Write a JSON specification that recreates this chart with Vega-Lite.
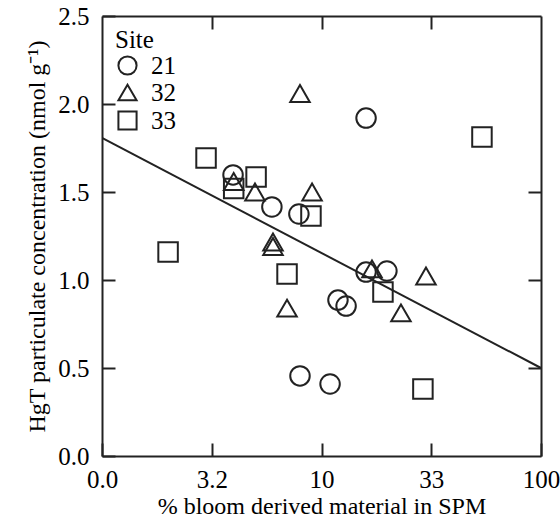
{
  "$schema": "https://vega.github.io/schema/vega-lite/v6.json",
  "autosize": {"type": "none"},
  "padding": {"left": 102, "top": 16, "right": 19, "bottom": 66},
  "width": 439,
  "height": 440,
  "background": "white",
  "config": {
    "view": {"stroke": null},
    "font": "Liberation Serif",
    "style": {
      "guide-label": {"font": "Liberation Serif", "fontSize": 25, "fill": "black"},
      "guide-title": {"font": "Liberation Serif", "fontSize": 24, "fill": "black", "fontWeight": "normal"}
    },
    "axis": {
      "labelFont": "Liberation Serif",
      "titleFont": "Liberation Serif",
      "labelFontSize": 25,
      "titleFontSize": 24,
      "titleFontWeight": "normal",
      "labelColor": "black",
      "titleColor": "black",
      "domainColor": "#222",
      "tickColor": "#222",
      "domainWidth": 2,
      "tickWidth": 2,
      "grid": false
    },
    "legend": {
      "labelFont": "Liberation Serif",
      "titleFont": "Liberation Serif"
    }
  },
  "datasets": {
    "points": [
      {"log_bloom": 0.597, "hg": 1.597, "site": "21"},
      {"log_bloom": 0.774, "hg": 1.415, "site": "21"},
      {"log_bloom": 0.897, "hg": 1.375, "site": "21"},
      {"log_bloom": 1.203, "hg": 1.92, "site": "21"},
      {"log_bloom": 1.203, "hg": 1.045, "site": "21"},
      {"log_bloom": 1.298, "hg": 1.051, "site": "21"},
      {"log_bloom": 1.075, "hg": 0.886, "site": "21"},
      {"log_bloom": 1.112, "hg": 0.852, "site": "21"},
      {"log_bloom": 0.902, "hg": 0.455, "site": "21"},
      {"log_bloom": 1.039, "hg": 0.409, "site": "21"},
      {"log_bloom": 0.6, "hg": 1.56, "site": "32"},
      {"log_bloom": 0.697, "hg": 1.5, "site": "32"},
      {"log_bloom": 0.957, "hg": 1.5, "site": "32"},
      {"log_bloom": 0.902, "hg": 2.06, "site": "32"},
      {"log_bloom": 0.779, "hg": 1.216, "site": "32"},
      {"log_bloom": 0.779, "hg": 1.19, "site": "32"},
      {"log_bloom": 0.843, "hg": 0.84, "site": "32"},
      {"log_bloom": 1.23, "hg": 1.063, "site": "32"},
      {"log_bloom": 1.476, "hg": 1.023, "site": "32"},
      {"log_bloom": 1.362, "hg": 0.813, "site": "32"},
      {"log_bloom": 0.474, "hg": 1.693, "site": "33"},
      {"log_bloom": 0.702, "hg": 1.585, "site": "33"},
      {"log_bloom": 0.6, "hg": 1.52, "site": "33"},
      {"log_bloom": 0.301, "hg": 1.159, "site": "33"},
      {"log_bloom": 0.952, "hg": 1.364, "site": "33"},
      {"log_bloom": 0.843, "hg": 1.034, "site": "33"},
      {"log_bloom": 1.28, "hg": 0.932, "site": "33"},
      {"log_bloom": 1.462, "hg": 0.38, "site": "33"},
      {"log_bloom": 1.731, "hg": 1.813, "site": "33"}
    ],
    "fit": [
      {"log_bloom": 0, "hg": 1.807},
      {"log_bloom": 2, "hg": 0.5}
    ]
  },
  "layer": [
    {
      "data": {"name": "fit"},
      "mark": {"type": "line", "color": "#222", "strokeWidth": 2, "clip": true},
      "encoding": {
        "x": {
          "field": "log_bloom", "type": "quantitative",
          "scale": {"domain": [0, 2], "nice": false, "zero": false},
          "axis": {
            "orient": "bottom",
            "title": "% bloom derived material in SPM",
            "values": [0, 0.5, 1, 1.5, 2],
            "labelExpr": "datum.value == 0 ? '0.0' : datum.value == 0.5 ? '3.2' : datum.value == 1 ? '10' : datum.value == 1.5 ? '33' : '100'",
            "labelFont": "Liberation Serif",
            "labelFontSize": 25,
            "tickSize": -13,
            "labelPadding": 24,
            "titlePadding": 2,
            "labelFlush": false,
            "labelOverlap": false
          }
        },
        "y": {
          "field": "hg", "type": "quantitative",
          "scale": {"domain": [0, 2.5], "nice": false, "zero": false},
          "axis": {
            "orient": "left",
            "title": "HgT particulate concentration (nmol g⁻¹)",
            "values": [0, 0.5, 1, 1.5, 2, 2.5],
            "format": ".1f",
            "labelFont": "Liberation Serif",
            "labelFontSize": 25,
            "tickSize": -13,
            "labelPadding": 26,
            "titlePadding": 8,
            "labelFlush": false,
            "labelOverlap": false
          }
        }
      }
    },
    {
      "data": {"name": "points"},
      "mark": {"type": "point", "filled": false, "stroke": "#222", "strokeWidth": 2, "size": 380, "opacity": 1},
      "encoding": {
        "x": {
          "field": "log_bloom", "type": "quantitative",
          "axis": {
            "orient": "top", "title": null, "labels": false,
            "values": [0.5, 1, 1.5], "tickSize": -13
          }
        },
        "y": {
          "field": "hg", "type": "quantitative",
          "axis": {
            "orient": "right", "title": null, "labels": false,
            "values": [0.5, 1, 1.5], "tickSize": -13
          }
        },
        "shape": {
          "field": "site", "type": "nominal",
          "scale": {"domain": ["21", "32", "33"], "range": ["circle", "triangle-up", "square"]},
          "legend": {
            "title": "Site",
            "orient": "none",
            "legendX": 13,
            "legendY": 12,
            "titleFontSize": 25,
            "titleFontWeight": "normal",
            "titleColor": "black",
            "titlePadding": 0,
            "labelFontSize": 25,
            "labelColor": "black",
            "symbolSize": 330,
            "symbolStrokeWidth": 2,
            "symbolStrokeColor": "#222",
            "symbolFillColor": "transparent",
            "rowPadding": 1,
            "labelOffset": 11,
            "padding": 0
          }
        }
      }
    }
  ],
  "resolve": {"axis": {"x": "independent", "y": "independent"}}
}
